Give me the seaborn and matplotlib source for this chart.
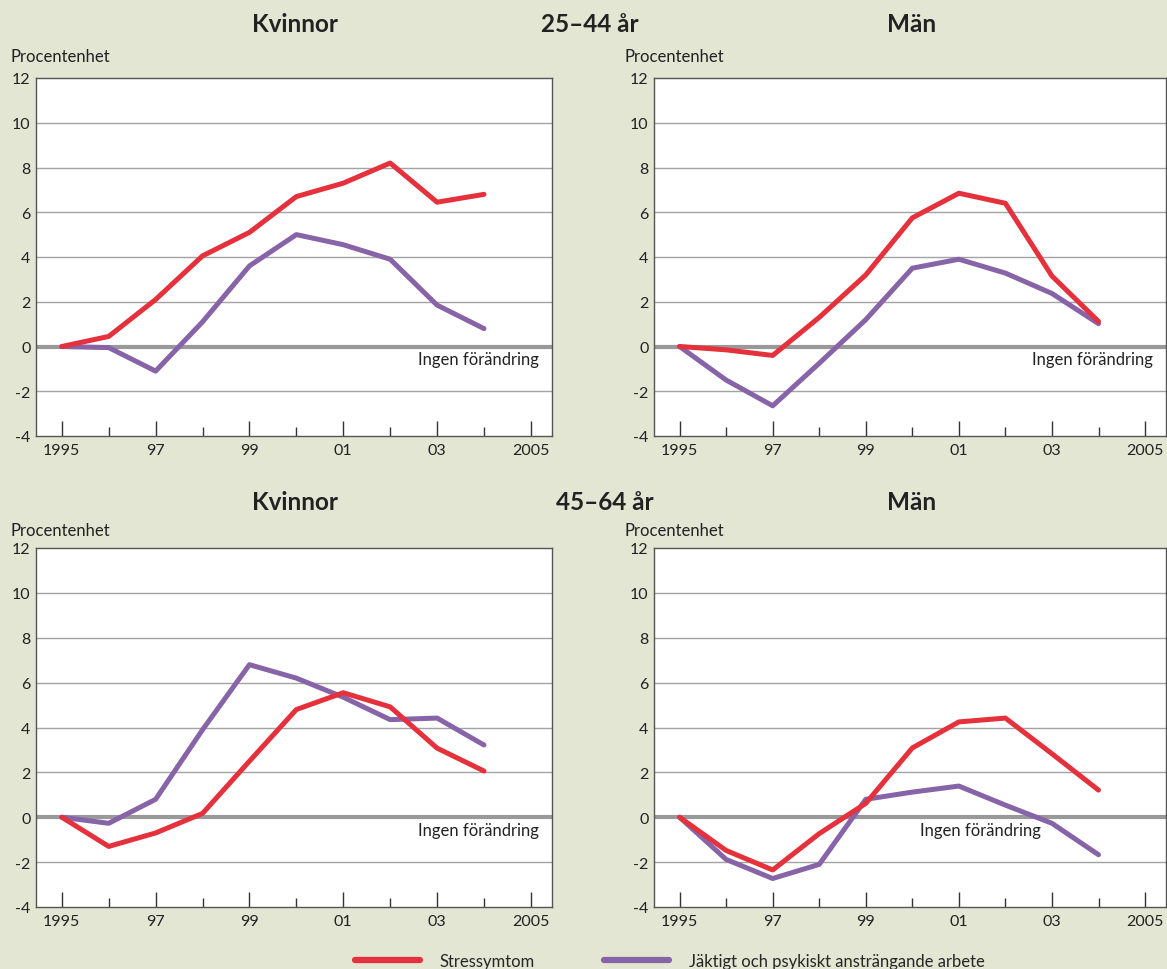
import matplotlib
matplotlib.use("Agg")
import matplotlib.pyplot as plt
import seaborn as sns
import pandas as pd
from matplotlib.lines import Line2D

sns.set_theme(style="white")
plt.rcParams['font.family'] = ['Lato', 'DejaVu Sans']

years = [1995, 1996, 1997, 1998, 1999, 2000, 2001, 2002, 2003, 2004]
series_names = ["Stressymtom", "Jäktigt och psykiskt ansträngande arbete"]

# 25–44 år
kv_25_stress = [0, 0.45, 2.1, 4.05, 5.1, 6.7, 7.3, 8.2, 6.45, 6.8]
kv_25_jakt = [0, -0.05, -1.1, 1.1, 3.6, 5.0, 4.55, 3.9, 1.85, 0.8]
man_25_stress = [0, -0.15, -0.4, 1.3, 3.2, 5.75, 6.85, 6.4, 3.15, 1.12]
man_25_jakt = [0, -1.5, -2.65, -0.75, 1.2, 3.5, 3.9, 3.28, 2.37, 1.02]
# 45–64 år
kv_45_stress = [0, -1.3, -0.7, 0.17, 2.5, 4.8, 5.55, 4.92, 3.08, 2.06]
kv_45_jakt = [0, -0.27, 0.8, 3.9, 6.8, 6.2, 5.35, 4.35, 4.42, 3.22]
man_45_stress = [0, -1.48, -2.35, -0.73, 0.62, 3.09, 4.25, 4.42, 2.83, 1.21]
man_45_jakt = [0, -1.88, -2.73, -2.1, 0.8, 1.12, 1.39, 0.54, -0.27, -1.67]

xtick_years = [1995, 1997, 1999, 2001, 2003, 2005]
xtick_labels = ["1995", "97", "99", "01", "03", "2005"]
ytick_vals = [-4, -2, 0, 2, 4, 6, 8, 10, 12]
ytick_labels = ["-4", "-2", "0", "2", "4", "6", "8", "10", "12"]

titles_top = ["Kvinnor", "25–44 år", "Män"]
titles_bottom = ["Kvinnor", "45–64 år", "Män"]
ylabel_text = "Procentenhet"
zero_text = "Ingen förändring"

RED = "#e5313b"
PURPLE = "#8763a8"
BG = "#e2e6d3"
palette = {series_names[0]: RED, series_names[1]: PURPLE}

W, H = 1167, 970
fig = plt.figure(figsize=(W / 100, H / 100), dpi=100, facecolor=BG)

def frac_box(l, r, t, b):
    return [l / W, 1 - b / H, (r - l) / W, (b - t) / H]

panels = [
    (frac_box(36, 552, 79, 437), kv_25_stress, kv_25_jakt, 2005.17),
    (frac_box(654, 1166, 79, 437), man_25_stress, man_25_jakt, 2005.17),
    (frac_box(36, 552, 549, 908), kv_45_stress, kv_45_jakt, 2005.17),
    (frac_box(654, 1166, 549, 908), man_45_stress, man_45_jakt, 2002.76),
]

for box, s_vals, j_vals, tx in panels:
    ax = fig.add_axes(box)
    ax.set_facecolor("white")
    df = pd.DataFrame({
        "År": years * 2,
        "Värde": s_vals + j_vals,
        "Serie": [series_names[0]] * len(years) + [series_names[1]] * len(years),
    })
    for yv in [-2, 2, 4, 6, 8, 10]:
        ax.axhline(yv, color="#a3a3a3", lw=1.0, zorder=1)
    ax.axhline(0, color="#999999", lw=3.0, zorder=1)
    sns.lineplot(data=df, x="År", y="Värde", hue="Serie", palette=palette,
                 hue_order=series_names[::-1], lw=3.6, legend=False, ax=ax,
                 zorder=3)
    ax.set_xlim(1994.45, 2005.45)
    ax.set_ylim(-4, 12)
    ax.set_xticks(xtick_years)
    ax.set_xticklabels(xtick_labels)
    ax.set_xticks([1996, 1998, 2000, 2002, 2004], minor=True)
    ax.set_yticks(ytick_vals)
    ax.set_yticklabels(ytick_labels)
    ax.tick_params(axis="x", which="major", direction="in", length=10.5, width=1,
                   color="#333333", labelsize=11.5, pad=5, bottom=True,
                   labelcolor="#222222")
    ax.tick_params(axis="x", which="minor", direction="in", length=6.5, width=1,
                   color="#333333", bottom=True)
    ax.tick_params(axis="y", length=0, labelsize=11.5, pad=4, labelcolor="#222222")
    ax.set_xlabel("")
    ax.set_ylabel("")
    for sp in ax.spines.values():
        sp.set_color("#555555")
        sp.set_linewidth(1.0)
    ax.text(tx, -0.55, zero_text, ha="right", va="center", fontsize=12, color="#222222")

title_kw = dict(fontsize=17.5, fontweight="bold", color="#222222", ha="center", va="center")
for (txt, x) in zip(titles_top, [295, 590, 912]):
    fig.text(x / W, 1 - 25 / H, txt, **title_kw)
for (txt, x) in zip(titles_bottom, [295, 605, 912]):
    fig.text(x / W, 1 - 503 / H, txt, **title_kw)

for x, y in [(10, 57), (624, 57), (10, 531), (624, 531)]:
    fig.text(x / W, 1 - y / H, ylabel_text, ha="left", va="center", fontsize=12, color="#222222")

leg_kw = dict(loc="center left", frameon=False, fontsize=12, handlelength=3.9,
              handletextpad=1.2, borderpad=0, borderaxespad=0)
h_red = Line2D([], [], color=RED, lw=4.5, solid_capstyle="round")
h_pur = Line2D([], [], color=PURPLE, lw=4.5, solid_capstyle="round")
fig.legend([h_red], [series_names[0]], bbox_to_anchor=(355 / W, 1 - 962 / H), **leg_kw)
fig.legend([h_pur], [series_names[1]], bbox_to_anchor=(604 / W, 1 - 962 / H), **leg_kw)

fig.savefig("out.png", dpi=100, facecolor=BG)
